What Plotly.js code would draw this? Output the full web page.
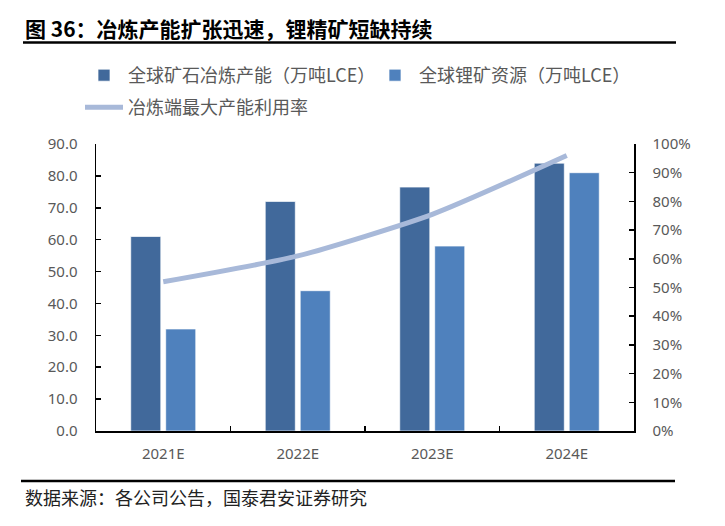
<!DOCTYPE html>
<html>
<head>
<meta charset="utf-8">
<script src="https://cdn.plot.ly/plotly-3.0.1.min.js"></script>
<style>html,body{margin:0;padding:0;background:#fff;}#chart{width:725px;height:526px;}</style>
</head>
<body>
<div id="chart"></div>
<script>
var categories = ["2021E", "2022E", "2023E", "2024E"];
var capacity = [61.0, 72.0, 76.5, 84.0];      // 全球矿石冶炼产能（万吨LCE）
var resource = [32.0, 44.0, 58.0, 81.0];      // 全球锂矿资源（万吨LCE）
var utilization = [0.52, 0.61, 0.755, 0.96];  // 冶炼端最大产能利用率
var seriesNames = ["全球矿石冶炼产能（万吨LCE）", "全球锂矿资源（万吨LCE）", "冶炼端最大产能利用率"];
var titleText = "图 36：冶炼产能扩张迅速，锂精矿短缺持续";
var sourceText = "数据来源：各公司公告，国泰君安证券研究";

var W = 725, H = 526;
var L = 96, R = 634, T = 144, B = 431;
function px(x){ return (x - L) / (R - L); }
function py(y){ return (B - y) / (B - T); }

var tickFont = {family: "Noto Sans, Open Sans, sans-serif", size: 15, color: "#595959"};
var cjk = "Noto Sans CJK SC, Noto Sans, sans-serif";

var traces = [
  {type: "bar", x: categories, y: capacity, name: seriesNames[0],
   marker: {color: "#41699B", line: {color: "rgba(255,255,255,0.7)", width: 1}},
   legend: "legend", hoverinfo: "skip"},
  {type: "bar", x: categories, y: resource, name: seriesNames[1],
   marker: {color: "#4F81BD", line: {color: "rgba(255,255,255,0.7)", width: 1}},
   legend: "legend", hoverinfo: "skip"},
  {type: "scatter", mode: "lines", x: categories, y: utilization, name: seriesNames[2],
   yaxis: "y2", line: {color: "#A8B9D9", width: 5, shape: "spline", smoothing: 0.6},
   legend: "legend2", hoverinfo: "skip"}
];

var layout = {
  width: W, height: H,
  margin: {l: L, r: W - R, t: T, b: H - B, pad: 0},
  paper_bgcolor: "#fff", plot_bgcolor: "#fff",
  barmode: "group", bargap: 0.48, bargroupgap: 0.14,
  title: {text: "<b>" + titleText + "</b>", x: 25 / W, xanchor: "left", xref: "container",
          y: 1 - 30 / H, yanchor: "middle", yref: "container",
          font: {family: cjk, size: 21, color: "#000"}},
  xaxis: {type: "category", showline: true, linecolor: "#000", linewidth: 1.5,
          ticks: "inside", tickson: "boundaries", ticklen: 5, tickcolor: "#000", tickwidth: 1.5,
          showgrid: false, zeroline: false, tickfont: tickFont, ticklabelstandoff: 8, fixedrange: true},
  yaxis: {range: [0, 90], dtick: 10, tickformat: ".1f", showline: true, linecolor: "#000", linewidth: 1.5,
          ticks: "inside", ticklen: 5, tickcolor: "#000", tickwidth: 1.5, showgrid: false, zeroline: false,
          tickfont: tickFont, ticklabelstandoff: 14, fixedrange: true},
  yaxis2: {range: [0, 1], dtick: 0.1, tickformat: ".0%", overlaying: "y", side: "right",
           showline: true, linecolor: "#000", linewidth: 1.5, ticks: "inside", ticklen: 5,
           tickcolor: "#000", tickwidth: 1.5, showgrid: false, zeroline: false,
           tickfont: tickFont, ticklabelstandoff: 14, fixedrange: true},
  legend: {orientation: "h", x: px(80), xanchor: "left", y: py(57), yanchor: "top",
           font: {family: cjk, size: 18, color: "#595959"}, bgcolor: "rgba(0,0,0,0)",
           traceorder: "normal", itemwidth: 38, entrywidth: 238, entrywidthmode: "pixels"},
  legend2: {orientation: "h", x: px(80), xanchor: "left", y: py(89), yanchor: "top",
            font: {family: cjk, size: 18, color: "#595959"}, bgcolor: "rgba(0,0,0,0)", itemwidth: 38},
  shapes: [
    {type: "line", xref: "paper", yref: "paper", x0: px(23), x1: px(676), y0: py(42.5), y1: py(42.5),
     line: {color: "#000", width: 2.5}},
    {type: "line", xref: "paper", yref: "paper", x0: px(21), x1: px(675), y0: py(481), y1: py(481),
     line: {color: "#000", width: 2.5}}
  ],
  annotations: [
    {text: sourceText, xref: "paper", yref: "paper", x: px(23), y: py(497), xanchor: "left", yanchor: "middle",
     showarrow: false, font: {family: cjk, size: 18, color: "#222"}}
  ]
};

Plotly.newPlot("chart", traces, layout, {displayModeBar: false, staticPlot: true});
</script>
</body>
</html>
